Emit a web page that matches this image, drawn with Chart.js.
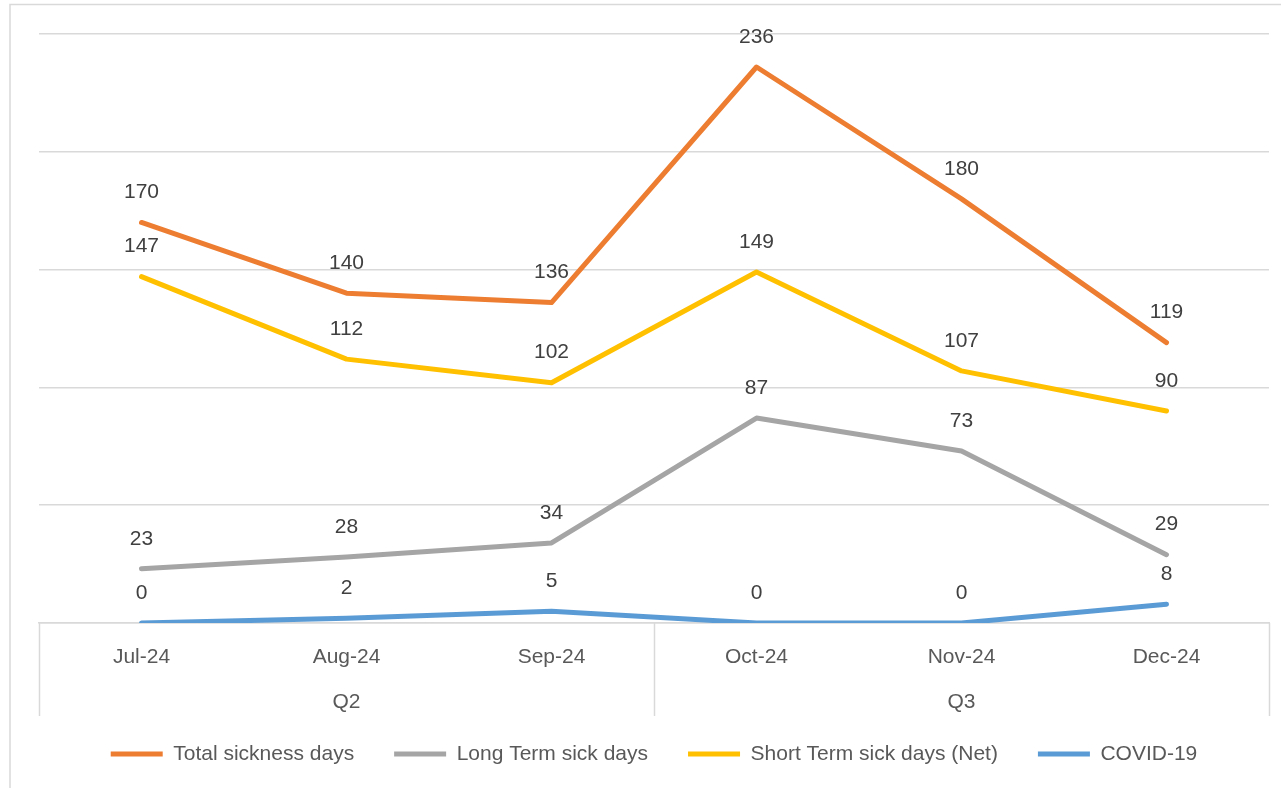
<!DOCTYPE html>
<html>
<head>
<meta charset="utf-8">
<script src="https://cdn.jsdelivr.net/npm/chart.js@4/dist/chart.umd.min.js"></script>
<style>
html,body{margin:0;padding:0;background:#fff;}
#wrap{position:relative;width:1281px;height:788px;}
</style>
</head>
<body>
<div id="wrap"><canvas id="c" width="1281" height="788"></canvas></div>
<script>
const months = ['Jul-24','Aug-24','Sep-24','Oct-24','Nov-24','Dec-24'];
const quarters = ['Q2','Q3'];
const quarterSpan = [3,3];
const totalSickness = [170,140,136,236,180,119];
const longTerm = [23,28,34,87,73,29];
const shortTerm = [147,112,102,149,107,90];
const covid = [0,2,5,0,0,8];

const FONT = "'Liberation Sans', Arial, sans-serif";
const TXT = '#595959';
const GRID = '#D9D9D9';

function ds(label, data, color){
  return {label, data, borderColor: color, backgroundColor: color, borderWidth: 5,
    pointRadius: 0, pointHoverRadius: 0, tension: 0, fill: false,
    borderCapStyle: 'round', borderJoinStyle: 'round', pointStyle: 'line'};
}

const framePlugin = {
  id: 'frame',
  beforeDraw(chart){
    const ctx = chart.ctx;
    ctx.save();
    ctx.strokeStyle = GRID; ctx.lineWidth = 1.5;
    ctx.beginPath();
    ctx.moveTo(10, 800); ctx.lineTo(10, 4.5); ctx.lineTo(1300, 4.5);
    ctx.stroke();
    ctx.restore();
  },
  afterDraw(chart){
    const ctx = chart.ctx, x = chart.scales.x, area = chart.chartArea;
    ctx.save();
    ctx.strokeStyle = GRID; ctx.lineWidth = 1.5;
    const bottom = area.bottom + 93;
    const half = (x.getPixelForValue(1) - x.getPixelForValue(0)) / 2;
    let idx = 0;
    const edges = [x.getPixelForValue(0) - half];
    quarterSpan.forEach(s => { idx += s; edges.push(x.getPixelForValue(idx-1) + half); });
    ctx.beginPath();
    edges.forEach(e => { ctx.moveTo(Math.round(e)+0.5, area.bottom); ctx.lineTo(Math.round(e)+0.5, bottom); });
    ctx.stroke();
    ctx.fillStyle = TXT; ctx.font = '21px ' + FONT;
    ctx.textAlign = 'center'; ctx.textBaseline = 'middle';
    quarters.forEach((q,i) => {
      ctx.fillText(q, (edges[i]+edges[i+1])/2, area.bottom + 79);
    });
    ctx.fillStyle = '#404040';
    chart.data.datasets.forEach((d, di) => {
      const meta = chart.getDatasetMeta(di);
      meta.data.forEach((pt, i) => {
        ctx.fillText(String(d.data[i]), pt.x, pt.y - 30);
      });
    });
    ctx.restore();
  }
};

new Chart(document.getElementById('c'), {
  type: 'line',
  data: {
    labels: months,
    datasets: [
      ds('Total sickness days', totalSickness, '#ED7D31'),
      ds('Long Term sick days', longTerm, '#A5A5A5'),
      ds('Short Term sick days (Net)', shortTerm, '#FFC000'),
      ds('COVID-19', covid, '#5B9BD5')
    ]
  },
  options: {
    responsive: false,
    animation: false,
    devicePixelRatio: 1,
    layout: { padding: { left: 39, right: 12, top: 34, bottom: 13.5 } },
    plugins: {
      tooltip: { enabled: false },
      legend: {
        position: 'bottom',
        labels: {
          usePointStyle: true, pointStyleWidth: 52, padding: 40,
          color: TXT, font: { family: FONT, size: 21 }
        }
      }
    },
    scales: {
      y: {
        min: 0, max: 250,
        ticks: { display: false, stepSize: 50 },
        grid: { color: GRID, lineWidth: 1.5, drawTicks: false },
        border: { display: false }
      },
      x: {
        offset: true,
        grid: { display: false, drawTicks: false },
        border: { display: true, color: GRID, width: 1.5 },
        ticks: { color: TXT, font: { family: FONT, size: 21 }, padding: 22, maxRotation: 0, autoSkip: false },
        afterFit(scale){ scale.height = 80.5; }
      }
    }
  },
  plugins: [framePlugin]
});
</script>
</body>
</html>
